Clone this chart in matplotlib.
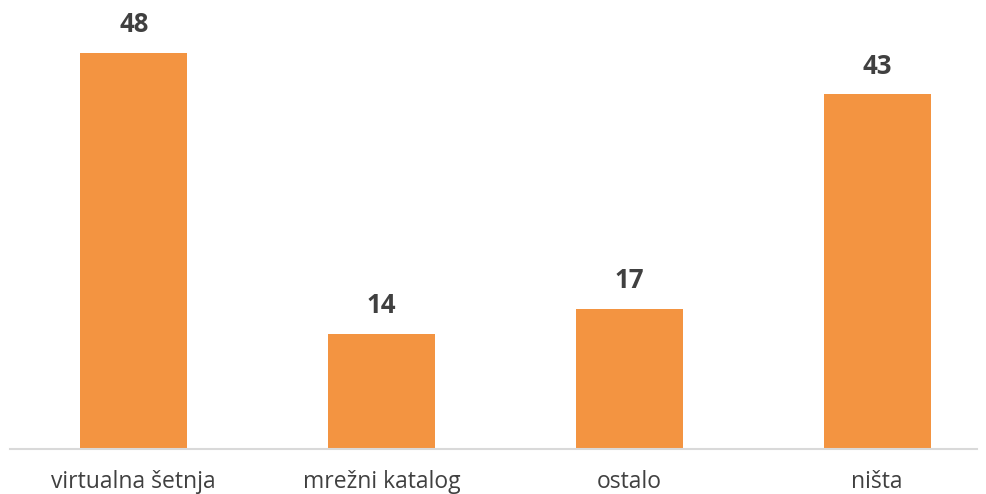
import matplotlib
matplotlib.use("Agg")
import matplotlib.pyplot as plt
from matplotlib.transforms import offset_copy

categories = ['virtualna šetnja', 'mrežni katalog', 'ostalo', 'ništa']
values = [48, 14, 17, 43]

bar_color = '#F39441'
text_color = '#404040'

plt.rcParams['font.family'] = ['Open Sans', 'DejaVu Sans']

fig = plt.figure(figsize=(9.87, 4.94), dpi=100)
ax = fig.add_axes([10 / 987, 45 / 494, 967 / 987, 449 / 494])

x = list(range(len(categories)))
ax.bar(x, values, width=0.432, color=bar_color, zorder=2)

ax.set_xlim(-0.4996, 3.403)
ax.set_ylim(0, 54.46)

for s in ['top', 'left', 'right']:
    ax.spines[s].set_visible(False)
ax.spines['bottom'].set_color('#D9D9D9')
ax.spines['bottom'].set_linewidth(1.5)
ax.set_yticks([])
ax.set_xticks([])

# value labels above the bars
val_tr = offset_copy(ax.transData, fig=fig, x=0, y=15, units='points')
for xi, v in zip(x, values):
    ax.text(xi, v, str(v), transform=val_tr, ha='center', va='baseline',
            fontsize=18.5, fontweight='bold', color=text_color)

# category labels under the axis line
lab_tr = offset_copy(ax.get_xaxis_transform(), fig=fig, x=0, y=-28, units='points')
for xi, c in zip(x, categories):
    ax.text(xi, 0, c, transform=lab_tr, ha='center', va='baseline',
            fontsize=16.5, color=text_color)

fig.savefig('out.png', dpi=100)
